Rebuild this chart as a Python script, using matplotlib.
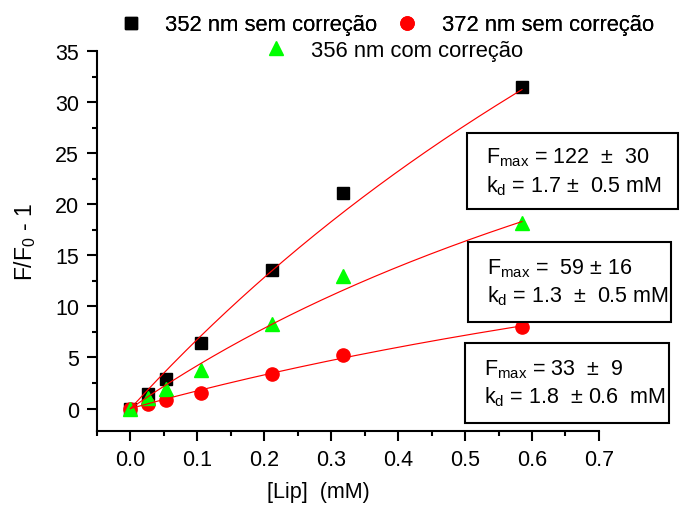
import numpy as np
import matplotlib
matplotlib.use("Agg")
import matplotlib.pyplot as plt
from matplotlib.ticker import MultipleLocator
from matplotlib.patches import Rectangle

plt.rcParams["font.family"] = ["Liberation Sans", "DejaVu Sans"]
plt.rcParams["mathtext.fontset"] = "custom"
plt.rcParams["mathtext.rm"] = "Liberation Sans"
plt.rcParams["mathtext.it"] = "Liberation Sans"

# lipid concentration (mM)
lip = [0.0, 0.0265, 0.053, 0.106, 0.212, 0.318, 0.585]

# F/F0 - 1 for each series
y352 = [0.0, 1.4, 2.9, 6.4, 13.6, 21.1, 31.5]
y372 = [0.0, 0.4, 0.8, 1.5, 3.4, 5.2, 8.0]
y356 = [0.0, 1.0, 1.9, 3.8, 8.3, 13.0, 18.2]

labels = ["352 nm sem correção", "372 nm sem correção", "356 nm com correção"]

# hyperbolic fit parameters (Fmax, kd in mM), as printed in the boxes
fmax = [122, 59, 33]
kd = [1.7, 1.3, 1.8]
box_texts = [
    "$\\mathrm{F_{max}}$ = 122  ±  30\n$\\mathrm{k_d}$ = 1.7 ±  0.5 mM",
    "$\\mathrm{F_{max}}$ =  59 ± 16\n$\\mathrm{k_d}$ = 1.3  ±  0.5 mM",
    "$\\mathrm{F_{max}}$ = 33  ±  9\n$\\mathrm{k_d}$ = 1.8  ± 0.6  mM",
]

fig = plt.figure(figsize=(6.8, 5.06), dpi=100)
ax = fig.add_axes([0.1426, 0.1462, 0.7382, 0.7508])

green = "#00ff00"
h1, = ax.plot(lip, y352, "s", color="black", ms=9, ls="none", zorder=3)
h2, = ax.plot(lip, y372, "o", color="red", ms=9.5, ls="none", zorder=3)
h3, = ax.plot(lip, y356, "^", color=green, ms=10.5, ls="none", zorder=3)

# fitted curves F = Fmax * x / (kd + x)
xf = np.linspace(0, max(lip), 200)
for fm, k in zip(fmax, kd):
    ax.plot(xf, fm * xf / (k + xf), color="red", lw=0.85, zorder=4)

ax.set_xlim(-0.05, 0.7)
ax.set_ylim(-2.2, 35)
ax.xaxis.set_minor_locator(MultipleLocator(0.05))
ax.yaxis.set_major_locator(MultipleLocator(5))
ax.yaxis.set_minor_locator(MultipleLocator(2.5))
ticks = np.arange(0, 0.71, 0.1)
ax.set_xticks(ticks)
ax.set_xticklabels([f"{v:.1f}" for v in ticks])
ax.spines[["top", "right"]].set_visible(False)
for s in ("left", "bottom"):
    ax.spines[s].set_linewidth(1.5)
ax.tick_params(which="major", direction="out", length=7, width=1.5, labelsize=15.5, pad=6)
ax.tick_params(which="minor", direction="out", length=3.5, width=1.5)
ax.set_xlabel("[Lip]  (mM)", fontsize=15.5, labelpad=8, x=0.442)
ax.set_ylabel("F/F$_0$ - 1", fontsize=16.5, labelpad=12)

# parameter boxes: (left, bottom, right, top) in axes fraction
boxes = [(0.737, 0.584, 1.157, 0.784),
         (0.739, 0.287, 1.143, 0.497),
         (0.733, 0.021, 1.139, 0.232)]
for t, (x0, y0, x1, y1) in zip(box_texts, boxes):
    ax.add_patch(Rectangle((x0, y0), x1 - x0, y1 - y0, transform=ax.transAxes,
                           fc="white", ec="black", lw=1.5, clip_on=False, zorder=5))
    ax.text(x0 + 0.038, (y0 + y1) / 2, t, transform=ax.transAxes, fontsize=15.5,
            va="center", ha="left", linespacing=1.25, zorder=6)

leg1 = fig.legend([h1, h2], labels[:2], ncol=2, loc="center", bbox_to_anchor=(0.567, 0.949),
                  frameon=False, fontsize=15.8, handlelength=1.2, handletextpad=0.98,
                  columnspacing=0.75, borderpad=0)
leg2 = fig.legend([h3], labels[2:], loc="center", bbox_to_anchor=(0.578, 0.899),
                  frameon=False, fontsize=15.8, handlelength=1.2, handletextpad=0.98, borderpad=0)
fig.add_artist(leg1)

fig.savefig("out.png", dpi=100)
